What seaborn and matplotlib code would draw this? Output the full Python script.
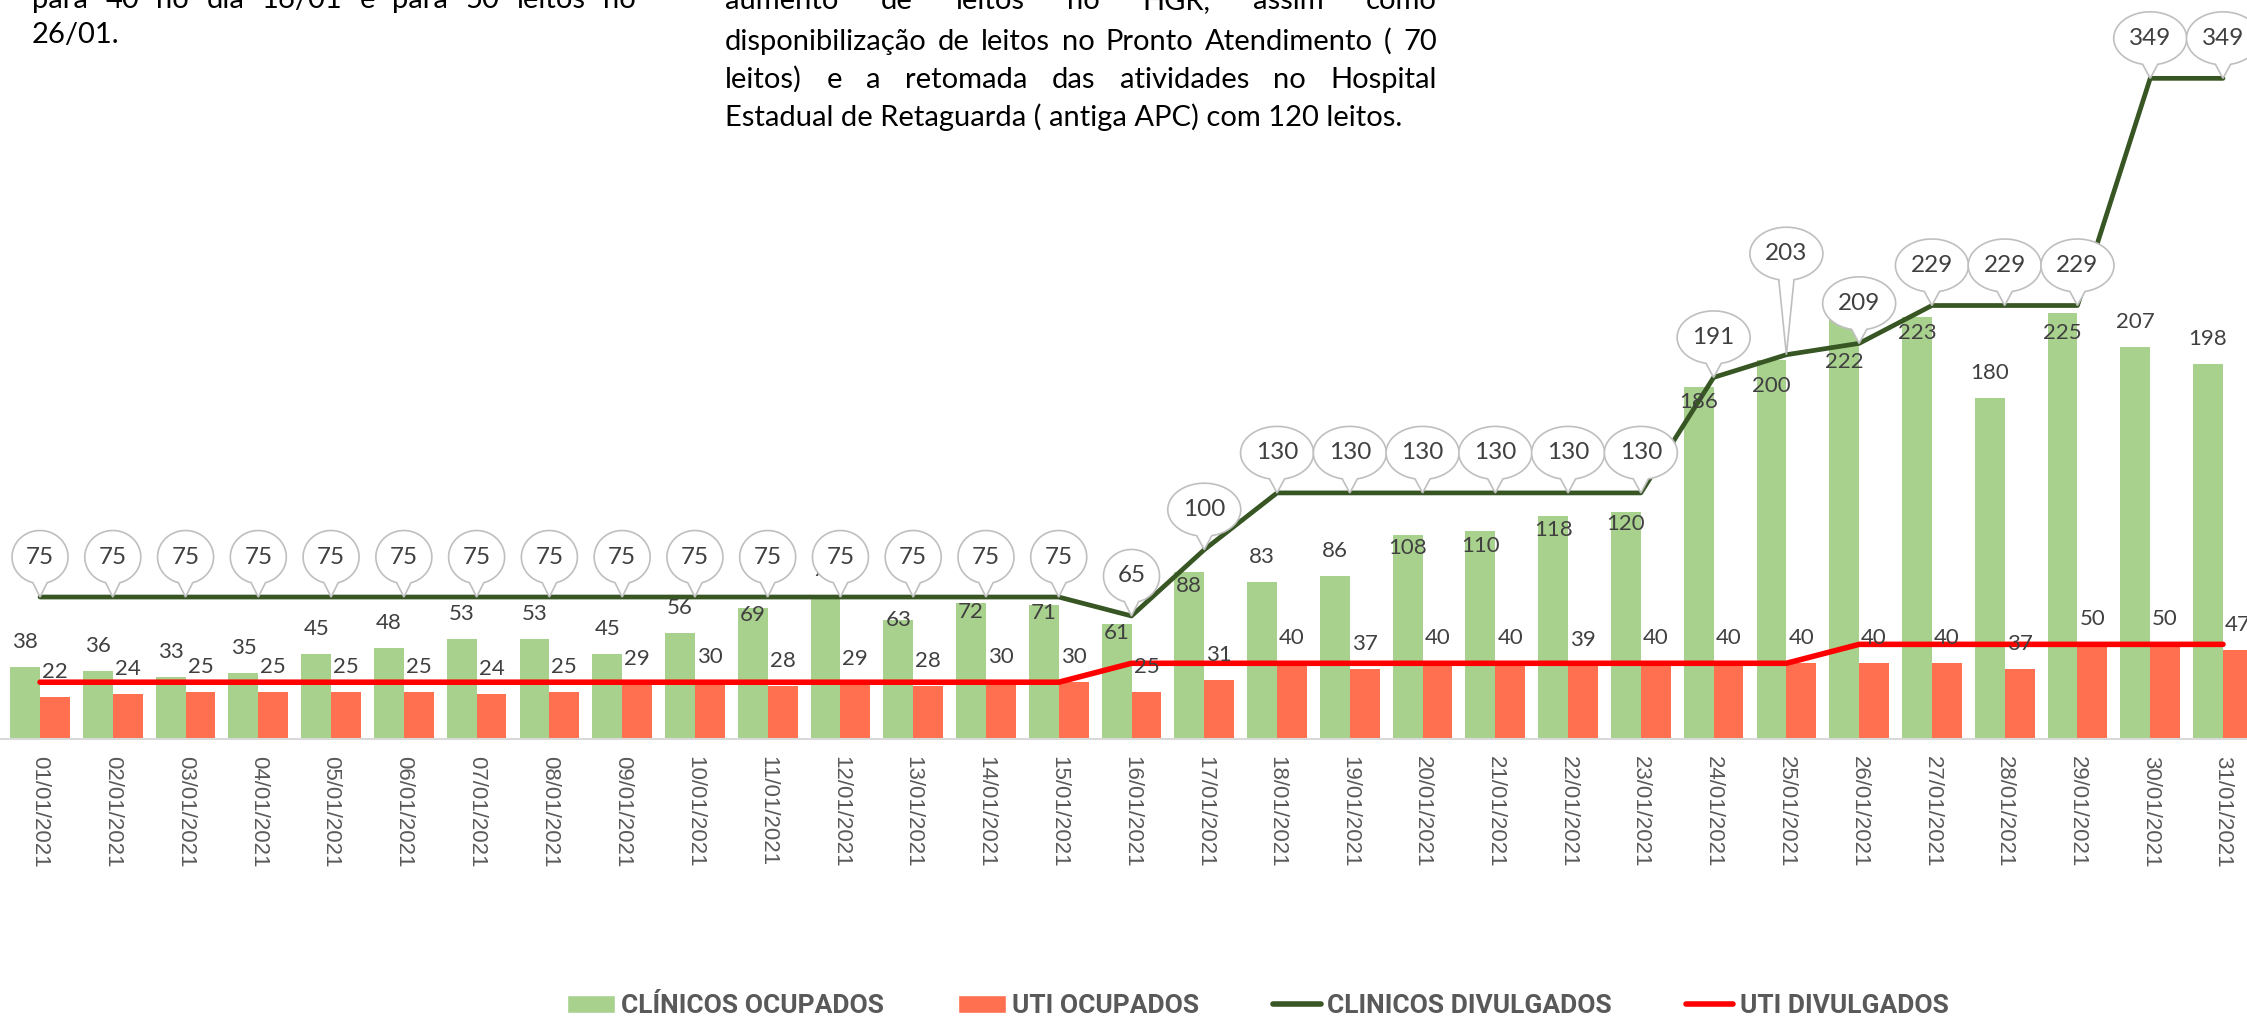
import numpy as np
import pandas as pd
import matplotlib
matplotlib.use("Agg")
import matplotlib.pyplot as plt
import seaborn as sns
from matplotlib.patches import Polygon, Patch
from matplotlib.lines import Line2D
from matplotlib.transforms import ScaledTranslation

# ---- data ----
dates = [f"{d:02d}/01/2021" for d in range(1, 32)]

clinicos_ocupados = [38, 36, 33, 35, 45, 48, 53, 53, 45, 56, 69, 76, 63, 72, 71, 61,
                     88, 83, 86, 108, 110, 118, 120, 186, 200, 222, 223, 180, 225, 207, 198]
uti_ocupados = [22, 24, 25, 25, 25, 25, 24, 25, 29, 30, 28, 29, 28, 30, 30, 25,
                31, 40, 37, 40, 40, 39, 40, 40, 40, 40, 40, 37, 50, 50, 47]
clinicos_divulgados = [75, 75, 75, 75, 75, 75, 75, 75, 75, 75, 75, 75, 75, 75, 75, 65,
                       100, 130, 130, 130, 130, 130, 130, 191, 203, 209, 229, 229, 229, 349, 349]
uti_divulgados = [30, 30, 30, 30, 30, 30, 30, 30, 30, 30, 30, 30, 30, 30, 30, 40,
                  40, 40, 40, 40, 40, 40, 40, 40, 40, 50, 50, 50, 50, 50, 50]

series_names = ["CLÍNICOS OCUPADOS", "UTI OCUPADOS", "CLINICOS DIVULGADOS", "UTI DIVULGADOS"]

note_left = ["para 40 no dia 16/01 e para 50 leitos no", "26/01."]
note_mid = ["aumento de leitos no HGR, assim como",
            "disponibilização de leitos no Pronto Atendimento ( 70",
            "leitos)  e a retomada das atividades no Hospital",
            "Estadual de Retaguarda ( antiga APC) com 120 leitos."]

# ---- styling / placement (pixels of the 2247x1018 output) ----
W, H = 2247, 1018
GREEN, ORANGE, DKGREEN, RED = "#A9D18E", "#FF7050", "#375623", "#FF0000"
LABEL = "#404040"
# vertical position of each green bar label relative to bar top (px, + = above)
green_label_lift = [25, 25, 25, 25, 25, 25, 25, 25, 25, 25, -7, 25, 0, -9, -8, -9,
                    -14, 25, 25, -13, -15, -14, -12, -15, -26, -43, -16, 25, -20, 25, 25]
bubble_lift = [40] * 31
bubble_lift[24] = 101

sns.set_theme(style="white")
plt.rcParams["font.family"] = ["Lato", "DejaVu Sans"]

fig = plt.figure(figsize=(W / 100, H / 100), dpi=100)
base_px = 739
ax = fig.add_axes([0, 1 - base_px / H, 1, base_px / H])

long = pd.DataFrame({
    "data": dates * 2,
    "valor": clinicos_ocupados + uti_ocupados,
    "serie": [series_names[0]] * len(dates) + [series_names[1]] * len(dates),
})
sns.barplot(data=long, x="data", y="valor", hue="serie", palette=[GREEN, ORANGE],
            width=0.82, saturation=1, legend=False, linewidth=0, ax=ax, zorder=2)

pos = np.arange(len(dates))
sns.lineplot(x=pos, y=clinicos_divulgados, color=DKGREEN, lw=3.4, ax=ax, zorder=3,
             solid_capstyle="round", solid_joinstyle="round")
sns.lineplot(x=pos, y=uti_divulgados, color=RED, lw=4.0, ax=ax, zorder=3,
             solid_capstyle="round", solid_joinstyle="round")

ax.set_xlim(-0.55, 30.33)
ax.set_ylim(0, base_px / 1.893)
ax.set_xlabel("")
ax.set_ylabel("")
ax.set_yticks([])
ax.set_xticks(pos)
ax.set_xticklabels(dates, rotation=-90, fontsize=16, color="#595959",
                   family=["Liberation Sans", "DejaVu Sans"])
ax.tick_params(axis="x", length=0, pad=12)
for s in ["top", "left", "right"]:
    ax.spines[s].set_visible(False)
ax.spines["bottom"].set_color("#D9D9D9")
ax.spines["bottom"].set_linewidth(1.5)

# bar value labels
for bar, lift in zip(ax.containers[0], green_label_lift):
    ax.annotate(f"{bar.get_height():.0f}", (bar.get_x() + bar.get_width() / 2, bar.get_height()),
                xytext=(0, lift * 0.72), textcoords="offset points", ha="center", va="center",
                fontsize=16, color=LABEL, zorder=4)
for bar in ax.containers[1]:
    ax.annotate(f"{bar.get_height():.0f}", (bar.get_x() + bar.get_width() / 2, bar.get_height()),
                xytext=(0, 25 * 0.72), textcoords="offset points", ha="center", va="center",
                fontsize=16, color=LABEL, zorder=4)


def callout(x, y, text, lift):
    # ellipse callout with a wedge pointing at (x, y); shape in inches around the point
    trans = fig.dpi_scale_trans + ScaledTranslation(x, y, ax.transData)
    w = 56 if len(text) < 3 else 73
    a, b, cy = w / 200, 53 / 200, lift / 100
    spread = 0.21 if len(text) >= 3 else 0.26
    ang = np.linspace(-np.pi / 2 + spread, 1.5 * np.pi - spread, 160)
    pts = np.column_stack([a * np.cos(ang), cy + b * np.sin(ang)])
    pts = np.vstack([pts, [0, 0]])
    ax.add_patch(Polygon(pts, closed=True, transform=trans, facecolor="white",
                         edgecolor="#BFBFBF", lw=1.2, zorder=5, clip_on=False))
    ax.text(0, cy, text, transform=trans, ha="center", va="center", fontsize=17.5,
            color=LABEL, zorder=6, clip_on=False)


for i, v in enumerate(clinicos_divulgados):
    callout(pos[i], v, str(v), bubble_lift[i])

# legend
handles = [Patch(facecolor=GREEN, label=series_names[0]),
           Patch(facecolor=ORANGE, label=series_names[1]),
           Line2D([], [], color=DKGREEN, lw=4.0, solid_capstyle="round", label=series_names[2]),
           Line2D([], [], color=RED, lw=4.0, solid_capstyle="round", label=series_names[3])]
leg = fig.legend(handles=handles, loc="center", bbox_to_anchor=(1258 / W, 1 - 1006 / H),
                 ncol=4, frameon=False,
                 prop=dict(family=["Roboto", "DejaVu Sans"], weight="bold", size=19),
                 handlelength=1.8, handletextpad=0.25, columnspacing=2.8, handleheight=0.65,
                 borderpad=0.1)
for t in leg.get_texts():
    t.set_color("#595959")

# justified notes at the top
renderer = fig.canvas.get_renderer()
note_kw = dict(fontsize=21, color="black")


def note_line(text, x0, x1, y, justify=True):
    if not justify:
        fig.text(x0 / W, 1 - y / H, text, ha="left", va="baseline", **note_kw)
        return
    words = text.split()
    widths = []
    for wd in words:
        t = fig.text(0, 0, wd, **note_kw)
        widths.append(t.get_window_extent(renderer).width)
        t.remove()
    gap = (x1 - x0 - sum(widths)) / (len(words) - 1)
    x = x0
    for wd, wid in zip(words, widths):
        fig.text(x / W, 1 - y / H, wd, ha="left", va="baseline", **note_kw)
        x += wid + gap


note_line(note_left[0], 32, 636, 8)
note_line(note_left[1], 32, 636, 43, justify=False)
for k, (line, yb) in enumerate(zip(note_mid, [9, 50, 88, 126])):
    note_line(line, 725, 1437, yb, justify=k < 3)

fig.savefig("out.png", dpi=100)
